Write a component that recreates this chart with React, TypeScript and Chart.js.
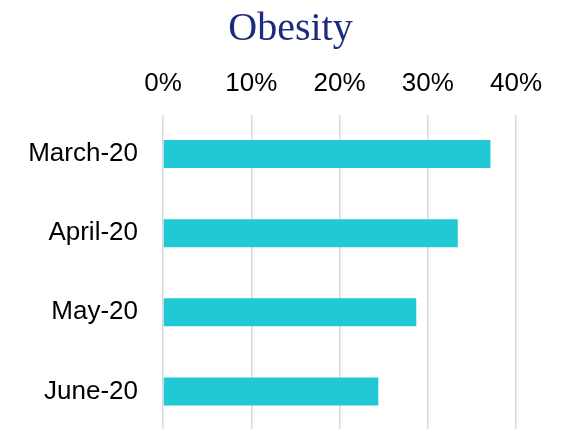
import React, { useEffect, useRef } from "react";
import { Chart, registerables } from "chart.js";

Chart.register(...registerables);

const categories = ["March-20", "April-20", "May-20", "June-20"];
const obesityValues = [37.1, 33.4, 28.7, 24.4];
const tickValues = [0, 10, 20, 30, 40];
const titleText = "Obesity";

export default function App() {
  const ref = useRef<HTMLCanvasElement | null>(null);

  useEffect(() => {
    if (!ref.current) return;
    const chart = new Chart(ref.current, {
      type: "bar",
      data: {
        labels: categories,
        datasets: [
          {
            label: titleText,
            data: obesityValues,
            backgroundColor: "#20C9D4",
            borderWidth: 0,
            barPercentage: 0.354,
            categoryPercentage: 1,
          },
        ],
      },
      options: {
        indexAxis: "y",
        responsive: false,
        animation: false,
        devicePixelRatio: 1,
        layout: { padding: { left: 17, right: 0, top: 0, bottom: 0 } },
        plugins: {
          legend: { display: false },
          tooltip: { enabled: false },
          title: {
            display: true,
            text: titleText,
            color: "#1C2B7F",
            font: { family: "'Palatino Linotype', 'Book Antiqua', 'Liberation Serif', serif", size: 40, weight: "normal" },
            padding: { top: 5, bottom: 0 },
          },
        },
        scales: {
          x: {
            position: "top",
            min: 0,
            max: 40,
            afterBuildTicks: (scale: any) => {
              scale.ticks = tickValues.map((v) => ({ value: v }));
            },
            afterFit: (scale: any) => {
              scale.height = 61.5;
              scale.paddingLeft = 0;
              scale.paddingRight = 48;
            },
            ticks: {
              color: "#000000",
              padding: 15,
              maxRotation: 0,
              font: { family: "'Liberation Sans', Arial, sans-serif", size: 26 },
              callback: (v: any) => `${v}%`,
            },
            grid: { color: "#D9D9D9", lineWidth: 1.5, drawTicks: false },
            border: { display: false },
          },
          y: {
            afterFit: (scale: any) => {
              scale.width = 146;
              scale.paddingTop = 0;
              scale.paddingBottom = 0;
            },
            ticks: {
              color: "#000000",
              padding: 25,
              font: { family: "'Liberation Sans', Arial, sans-serif", size: 26 },
            },
            grid: { display: false, drawTicks: false },
            border: { display: false },
          },
        },
      },
    });
    return () => chart.destroy();
  }, []);

  return (
    <div style={{ position: "fixed", left: 0, top: 0, width: 564, height: 429, overflow: "hidden", background: "#fff" }}>
      <canvas ref={ref} width={564} height={431} style={{ display: "block" }} />
    </div>
  );
}
